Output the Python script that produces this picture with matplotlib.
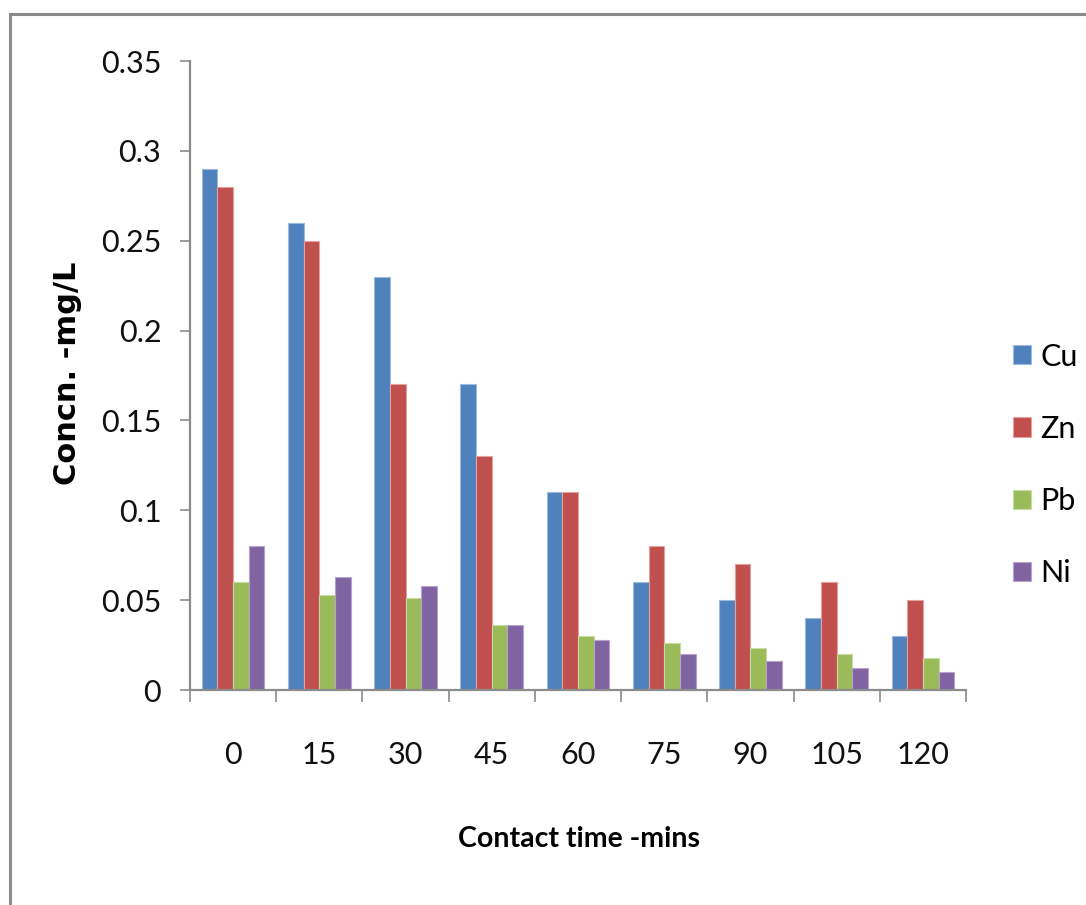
import matplotlib
matplotlib.use("Agg")
import matplotlib.pyplot as plt
import numpy as np
from matplotlib.lines import Line2D

# ---- data ----
times = ["0", "15", "30", "45", "60", "75", "90", "105", "120"]
cu = [0.29, 0.26, 0.23, 0.17, 0.11, 0.06, 0.05, 0.04, 0.03]
zn = [0.28, 0.25, 0.17, 0.13, 0.11, 0.08, 0.07, 0.06, 0.05]
pb = [0.060, 0.053, 0.051, 0.036, 0.030, 0.026, 0.0235, 0.020, 0.018]
ni = [0.080, 0.063, 0.058, 0.036, 0.028, 0.020, 0.016, 0.012, 0.010]
series_names = ["Cu", "Zn", "Pb", "Ni"]
yticks = [0, 0.05, 0.1, 0.15, 0.2, 0.25, 0.3, 0.35]
ytick_labels = ["0", "0.05", "0.1", "0.15", "0.2", "0.25", "0.3", "0.35"]

colors = ["#4F81BD", "#C0504D", "#9BBB59", "#8064A2"]
edges = ["#9DB9DD", "#E3A09E", "#C7DBA4", "#B5A3CC"]

plt.rcParams['font.family'] = ['Lato', 'DejaVu Sans']

W, H = 1086, 905
fig = plt.figure(figsize=(W / 100, H / 100), dpi=100)
ax = fig.add_axes([190 / W, 1 - 690 / H, (966 - 190) / W, (690 - 61) / H])

x = np.arange(len(times))
n = 4
bw = 1.0 / (n + 1.5)
all_vals = [cu, zn, pb, ni]
handles = []
for i, vals in enumerate(all_vals):
    off = (i - (n - 1) / 2) * bw
    b = ax.bar(x + off, vals, width=bw, color=colors[i], edgecolor=edges[i],
               linewidth=0.8, label=series_names[i], zorder=2)
    handles.append(b)

ax.set_xlim(-0.5, len(times) - 0.5)
ax.set_ylim(0, 0.35)

gray = "#8C8C8C"
for s in ["top", "right"]:
    ax.spines[s].set_visible(False)
for s in ["left", "bottom"]:
    ax.spines[s].set_color(gray)
    ax.spines[s].set_linewidth(1.6)

ax.set_yticks(yticks)
ax.set_yticklabels(ytick_labels)
ax.tick_params(axis='y', which='major', length=7.2, width=1.2, color=gray,
               pad=13.5, labelsize=22, labelcolor="#111111")

ax.set_xticks(np.arange(len(times) + 1) - 0.5)
ax.set_xticklabels([])
ax.tick_params(axis='x', which='major', length=8.6, width=1.2, color=gray)
ax.set_xticks(x, minor=True)
ax.set_xticklabels(times, minor=True)
ax.tick_params(axis='x', which='minor', length=0, pad=37, labelsize=22,
               labelcolor="#111111")

fig.text(68 / W, 1 - 373 / H, "Concn. -mg/L", rotation=90, ha='center',
         va='center', fontsize=22, fontweight='bold', family='DejaVu Sans')
fig.text(579 / W, 1 - 839 / H, "Contact time -mins", ha='center', va='center',
         fontsize=20.5, fontweight='bold')

leg = fig.legend(handles=handles, labels=series_names, loc='center left',
                 bbox_to_anchor=(1013 / W, 1 - 465 / H), frameon=False,
                 fontsize=22, handlelength=0.6, handleheight=0.6,
                 handletextpad=0.3, labelspacing=1.45, borderpad=0,
                 borderaxespad=0)

# outer chart border
bc = "#8A8A8A"
fig.add_artist(Line2D([10 / W, 1.0], [1 - 14 / H, 1 - 14 / H], color=bc,
                      linewidth=2.2, transform=fig.transFigure))
fig.add_artist(Line2D([10 / W, 10 / W], [0, 1 - 14 / H], color=bc,
                      linewidth=2.2, transform=fig.transFigure))

fig.savefig("out.png", dpi=100)
